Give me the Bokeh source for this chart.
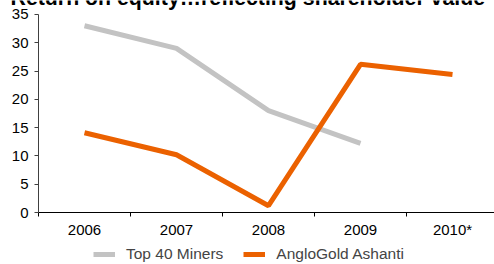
from bokeh.plotting import figure
from bokeh.models import Range1d, FixedTicker, Label, Legend, LegendItem
from bokeh.embed import file_html
from bokeh.resources import INLINE

years = ["2006", "2007", "2008", "2009", "2010*"]
top40_miners = [33.0, 29.0, 18.0, 12.2, None]
anglogold = [14.1, 10.2, 1.2, 26.2, 24.4]
y_ticks = [0, 5, 10, 15, 20, 25, 30, 35]
title_text = "Return on equity\u2026reflecting shareholder value"

FONT = "Liberation Sans"
GRAY = "#C3C3C3"
ORANGE = "#EB6100"

xs = [i + 0.5 for i in range(len(years))]
gx = [x for x, v in zip(xs, top40_miners) if v is not None]
gy = [v for v in top40_miners if v is not None]

p = figure(width=494, height=264, output_backend="svg", toolbar_location=None,
           x_range=Range1d(-0.41304, 4.9565), y_range=Range1d(-9.19, 37.47),
           min_border_left=0, min_border_right=0, min_border_top=0, min_border_bottom=0)
p.outline_line_color = None
p.grid.visible = False
p.background_fill_color = "white"
p.border_fill_color = "white"

r1 = p.line(gx, gy, line_color=GRAY, line_width=5)
r2 = p.line(xs, anglogold, line_color=ORANGE, line_width=5)

xa = p.xaxis[0]
xa.fixed_location = 0
xa.bounds = (0, 6)
xa.ticker = FixedTicker(ticks=xs, minor_ticks=list(range(len(years) + 1)))
xa.major_label_overrides = {x: y for x, y in zip(xs, years)}
xa.major_tick_out = 0
xa.major_tick_in = 0
xa.minor_tick_out = 4
xa.minor_tick_in = 0
xa.minor_tick_line_color = "black"
xa.axis_line_color = "black"
xa.major_label_standoff = 4
xa.major_label_text_font = FONT
xa.major_label_text_font_size = "15px"
xa.major_label_text_color = "black"

ya = p.yaxis[0]
ya.fixed_location = 0
ya.ticker = FixedTicker(ticks=y_ticks)
ya.bounds = (0, 35)
ya.minor_tick_line_color = None
ya.major_tick_out = 4
ya.major_tick_in = 0
ya.axis_line_color = "#404040"
ya.major_tick_line_color = "#404040"
ya.major_label_standoff = 6
ya.major_label_text_font = FONT
ya.major_label_text_font_size = "15px"
ya.major_label_text_color = "black"

title = Label(x=-0.304, y=38.0, text=title_text, text_font=FONT, text_font_size="21.3px",
              text_font_style="bold", text_color="black", text_baseline="alphabetic")
p.add_layout(title)

legend = Legend(items=[LegendItem(label="Top 40 Miners", renderers=[r1]),
                       LegendItem(label="AngloGold Ashanti", renderers=[r2])],
                orientation="horizontal", location=(93, 1),
                label_text_font=FONT, label_text_font_size="15.5px",
                glyph_width=22, glyph_height=12, label_standoff=11, spacing=20,
                padding=0, margin=0, border_line_color=None,
                background_fill_alpha=0)
p.add_layout(legend)

open("out.html", "w").write(file_html(p, INLINE))
